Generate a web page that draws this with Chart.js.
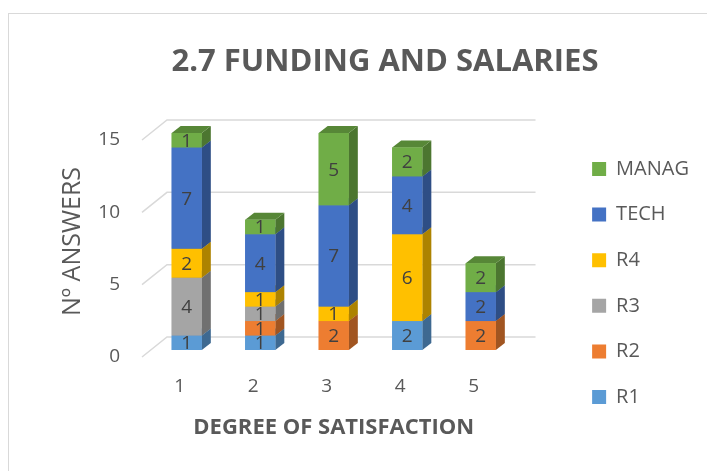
<!DOCTYPE html>
<html>
<head>
<meta charset="utf-8">
<script src="https://cdn.jsdelivr.net/npm/chart.js@4.4.1/dist/chart.umd.min.js"></script>
<style>
html, body { margin: 0; padding: 0; background: #fff; }
#frame { position: absolute; left: 8px; top: 13px; width: 720px; height: 480px; border: 1px solid #d9d9d9; }
#wrap { position: absolute; left: 0; top: 0; width: 707px; height: 471px; }
</style>
</head>
<body>
<div id="frame"></div>
<div id="wrap"><canvas id="barChart"></canvas></div>
<script>
// data
var categories = ['1', '2', '3', '4', '5'];
var r1 = [1, 1, 0, 2, 0];
var r2 = [0, 1, 2, 0, 2];
var r3 = [4, 1, 0, 0, 0];
var r4 = [2, 1, 1, 6, 0];
var tech = [7, 4, 7, 4, 2];
var manag = [1, 1, 5, 2, 2];
var seriesNames = ['R1', 'R2', 'R3', 'R4', 'TECH', 'MANAG'];
var seriesColors = ['#5B9BD5', '#ED7D31', '#A5A5A5', '#FFC000', '#4472C4', '#70AD47'];
var yMax = 15, yStep = 5;

var textColor = '#595959';
var fontFamily = "'Open Sans'";
var depthX = 9, depthY = 7;

function shade(hex, f) {
    var n = parseInt(hex.slice(1), 16);
    var r = (n >> 16) & 255, g = (n >> 8) & 255, b = n & 255;
    return 'rgb(' + Math.round(r * f) + ',' + Math.round(g * f) + ',' + Math.round(b * f) + ')';
}

// fake 3d: floor/back gridlines, bar sides and tops, value labels
var bars3d = {
    id: 'bars3d',
    beforeDatasetsDraw: function(chart) {
        var ctx = chart.ctx, area = chart.chartArea, y = chart.scales.y;
        ctx.save();
        ctx.strokeStyle = '#d9d9d9';
        ctx.lineWidth = 1.5;
        y.ticks.forEach(function(t) {
            var py = y.getPixelForValue(t.value);
            ctx.beginPath();
            ctx.moveTo(area.left - 8, py + 7);
            ctx.lineTo(area.left + 17, py - 13);
            ctx.lineTo(area.right + 18, py - 13);
            ctx.stroke();
        });
        ctx.restore();
    },
    afterDatasetsDraw: function(chart) {
        var ctx = chart.ctx;
        ctx.save();
        chart.data.datasets.forEach(function(ds, i) {
            var meta = chart.getDatasetMeta(i);
            meta.data.forEach(function(bar, j) {
                if (!ds.data[j]) return;
                var p = bar.getProps(['x', 'y', 'base', 'width'], true);
                var l = p.x - p.width / 2, r = p.x + p.width / 2;
                var top = Math.min(p.y, p.base), bot = Math.max(p.y, p.base);
                ctx.fillStyle = shade(ds.backgroundColor, 0.68);
                ctx.beginPath();
                ctx.moveTo(r, top);
                ctx.lineTo(r + depthX, top - depthY);
                ctx.lineTo(r + depthX, bot - depthY);
                ctx.lineTo(r, bot);
                ctx.closePath();
                ctx.fill();
                ctx.fillStyle = shade(ds.backgroundColor, 0.78);
                ctx.beginPath();
                ctx.moveTo(l, top);
                ctx.lineTo(l + depthX, top - depthY);
                ctx.lineTo(r + depthX, top - depthY);
                ctx.lineTo(r, top);
                ctx.closePath();
                ctx.fill();
                ctx.fillStyle = ds.backgroundColor;
                ctx.fillRect(l, top, r - l, bot - top);
            });
        });
        ctx.fillStyle = '#404040';
        ctx.font = '19px ' + fontFamily;
        ctx.textAlign = 'center';
        ctx.textBaseline = 'middle';
        chart.data.datasets.forEach(function(ds, i) {
            var meta = chart.getDatasetMeta(i);
            meta.data.forEach(function(bar, j) {
                if (!ds.data[j]) return;
                var p = bar.getProps(['x', 'y', 'base'], true);
                ctx.fillText(String(ds.data[j]), p.x, (p.y + p.base) / 2 + 1);
            });
        });
        ctx.restore();
    }
};

var seriesData = [r1, r2, r3, r4, tech, manag];
var datasets = seriesNames.map(function(name, i) {
    return {
        label: name,
        data: seriesData[i],
        backgroundColor: seriesColors[i],
        borderWidth: 0,
        barPercentage: 0.41,
        categoryPercentage: 1
    };
});

var ctx = document.getElementById('barChart').getContext('2d');
var myChart = new Chart(ctx, {
    type: 'bar',
    data: {
        labels: categories,
        datasets: datasets
    },
    plugins: [bars3d],
    options: {
        responsive: true,
        maintainAspectRatio: false,
        animation: false,
        layout: { padding: { left: 71, right: 8, top: 0, bottom: 0 } },
        plugins: {
            title: {
                display: true,
                text: '2.7 FUNDING AND SALARIES',
                color: textColor,
                font: { family: fontFamily, size: 31, weight: 'bold' },
                padding: { top: 43.9, bottom: 51.9 }
            },
            legend: {
                position: 'right',
                align: 'start',
                reverse: true,
                maxWidth: 220,
                title: { display: true, text: '', padding: { top: 119, bottom: 0 } },
                labels: {
                    boxWidth: 14,
                    boxHeight: 14,
                    padding: 25.6,
                    color: textColor,
                    font: { family: fontFamily, size: 20 }
                }
            },
            tooltip: { enabled: false }
        },
        scales: {
            x: {
                stacked: true,
                grid: { display: false, drawTicks: false },
                border: { display: false },
                ticks: {
                    color: textColor,
                    font: { family: fontFamily, size: 19 },
                    padding: 25.6,
                    labelOffset: -7
                },
                title: {
                    display: true,
                    text: 'DEGREE OF SATISFACTION',
                    color: textColor,
                    font: { family: fontFamily, size: 22, weight: 'bold' },
                    padding: { top: 0, bottom: 29.8 }
                },
                afterFit: function(s) { s.height = 121; }
            },
            y: {
                stacked: true,
                min: 0,
                max: yMax,
                grid: { display: false, drawTicks: false },
                border: { display: false },
                ticks: {
                    stepSize: yStep,
                    color: textColor,
                    font: { family: fontFamily, size: 19 },
                    padding: 30,
                    labelOffset: 7
                },
                title: {
                    display: true,
                    text: 'Nº ANSWERS',
                    color: textColor,
                    font: { family: fontFamily, size: 25 },
                    padding: { top: -13, bottom: 0 }
                },
                afterFit: function(s) { s.width = 79; }
            },
            spacer: {
                type: 'linear',
                position: 'right',
                grid: { display: false, drawTicks: false },
                border: { display: false },
                ticks: { display: false },
                afterFit: function(s) { s.width = 49; }
            }
        }
    }
});
</script>
</body>
</html>
